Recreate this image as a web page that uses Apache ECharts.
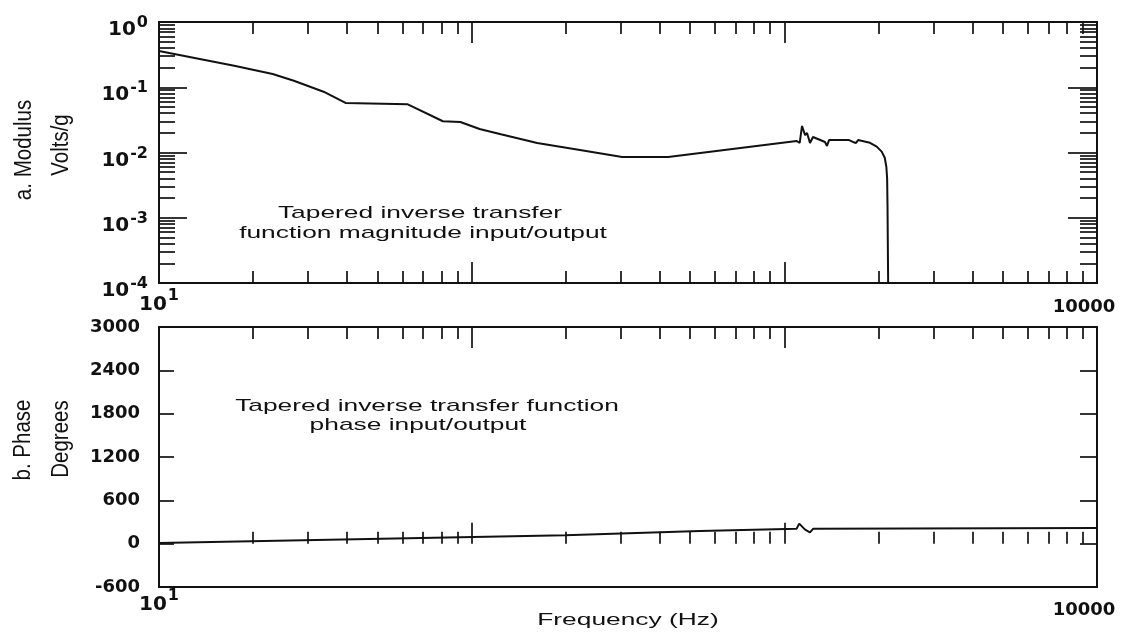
<!DOCTYPE html>
<html><head><meta charset="utf-8">
<script src="https://cdn.jsdelivr.net/npm/echarts@6/dist/echarts.min.js"></script>
<style>html,body{margin:0;padding:0;background:#fff}#c{width:1135px;height:632px}</style>
</head><body><div id="c"></div>
<script>
// ---- data ----
const freqTop = [10, 17.4, 23.1, 27.0, 33.6, 39.5, 62.5, 80.9, 92.0, 106, 124, 162, 222, 303, 425,
  1095, 1120, 1139, 1165, 1182, 1208, 1235, 1349, 1369, 1390, 1610, 1658, 1696, 1721,
  1879, 1975, 2048, 2095, 2120, 2132, 2138, 2142, 2148];
const modulus = [0.359, 0.214, 0.160, 0.126, 0.0855, 0.0574, 0.0548, 0.0301, 0.0293, 0.0229, 0.0190, 0.0140, 0.0109, 0.00853, 0.00853,
  0.0150, 0.0140, 0.0255, 0.0185, 0.0199, 0.0140, 0.0173, 0.0145, 0.0126, 0.0155, 0.0155, 0.0145, 0.0140, 0.0155,
  0.0141, 0.0123, 0.0103, 0.0083, 0.0060, 0.0040, 0.0015, 0.0005, 0.0001];
const freqBottom = [10, 199, 538, 1095, 1116, 1165, 1208, 1238, 10000];
const phase = [8, 115, 174, 208, 277, 194, 156, 208, 216];

const xMajorTicks = [100, 1000];
const xMinorTicks = [20, 30, 40, 50, 60, 70, 80, 90, 200, 300, 400, 500, 600, 700, 800, 900,
  2000, 3000, 4000, 5000, 6000, 7000, 8000, 9000];
const xLabelValues = [10, 10000];
const yTopMajorTicks = [0.001, 0.01, 0.1];
const yTopMinorTicks = [0.0002, 0.0003, 0.0004, 0.0005, 0.0006, 0.0007, 0.0008, 0.0009,
  0.002, 0.003, 0.004, 0.005, 0.006, 0.007, 0.008, 0.009,
  0.02, 0.03, 0.04, 0.05, 0.06, 0.07, 0.08, 0.09,
  0.2, 0.3, 0.4, 0.5, 0.6, 0.7, 0.8, 0.9];
const yBottomTicks = [0, 600, 1200, 1800, 2400];

// ---- chart ----
const INK = '#111';
const FONT = 'DejaVu Sans';
const tickStyle = { color: INK, width: 1.7 };
const tok = (size, pad) => ({ fontSize: size, fontWeight: 'bold', fontFamily: FONT, color: INK, verticalAlign: 'middle', padding: pad });
const richY = { b: tok(20, [16, 0, 0, 0]), e: tok(16, [2, 0, 0, 1]) };
const richX = [
  { b: tok(20, [0, 0, 0, 0]), e: tok(16, [0, 0, 18, 1]), r: tok(18, [10, 26, 0, 0]) },
  { b: tok(20, [0, 0, 0, 0]), e: tok(16, [0, 0, 18, 1]), r: tok(18, [13, 26, 0, 0]) }
];
const xLabelMargin = [5, 1];
function near(a, b) { return Math.abs(a - b) < 1e-6 * Math.abs(b); }
function xLabelFmt(v) {
  if (near(v, xLabelValues[0])) return '{b|10}{e|1}';
  if (near(v, xLabelValues[1])) return '{r|' + xLabelValues[1] + '}';
  return '';
}
function tickAxis(grid, pos, values, len, extra) {
  return Object.assign({
    gridIndex: grid, position: pos,
    axisLine: { show: false }, splitLine: { show: false },
    axisLabel: { show: false },
    axisTick: { show: true, inside: true, length: len, customValues: values, lineStyle: tickStyle }
  }, extra);
}
const xLog = { type: 'log', logBase: 10, min: 10, max: 10000 };
const xAxes = [];
[0, 1].forEach(g => {
  xAxes.push(tickAxis(g, 'bottom', xMinorTicks, 12, Object.assign({}, xLog, {
    axisLabel: { show: true, margin: xLabelMargin[g], formatter: xLabelFmt, rich: richX[g], fontFamily: FONT, color: INK }
  })));
  xAxes.push(tickAxis(g, 'bottom', xMajorTicks, 21, xLog));
  xAxes.push(tickAxis(g, 'top', xMinorTicks, 12, xLog));
  xAxes.push(tickAxis(g, 'top', xMajorTicks, 21, xLog));
});
const yLog = { type: 'log', logBase: 10, min: 0.0001, max: 1 };
const yLin = { type: 'value', min: -600, max: 3000, interval: 600 };
const yAxes = [
  tickAxis(0, 'left', yTopMinorTicks, 16, Object.assign({}, yLog, {
    axisLabel: { show: true, margin: 11, rich: richY,
      formatter: v => '{b|10}{e|' + Math.round(Math.log10(v)) + '}' }
  })),
  tickAxis(0, 'left', yTopMajorTicks, 28, yLog),
  tickAxis(0, 'right', yTopMinorTicks, 17, yLog),
  tickAxis(0, 'right', yTopMajorTicks, 29, yLog),
  tickAxis(1, 'left', yBottomTicks, 15, Object.assign({}, yLin, {
    axisLabel: { show: true, margin: 19, fontSize: 18, fontWeight: 'bold', fontFamily: FONT, color: INK,
      formatter: v => String(v) }
  })),
  tickAxis(1, 'right', yBottomTicks, 17, yLin)
];

const textStyle = (t, size) => ({ text: t, fontSize: size, fontFamily: 'Liberation Sans', fill: INK, align: 'center', verticalAlign: 'middle' });
function hText(t, x, y) { return { type: 'text', x: x, y: y, scaleX: 1.55, style: textStyle(t, 17) }; }
function vText(t, x, y) { return { type: 'text', x: x, y: y, rotation: Math.PI / 2, scaleY: 1.18, style: textStyle(t, 20.5) }; }

const chart = echarts.init(document.getElementById('c'));
chart.setOption({
  animation: false,
  backgroundColor: '#fff',
  grid: [
    { left: 159, top: 22, width: 938, height: 261, show: true, borderColor: INK, borderWidth: 2, backgroundColor: 'transparent' },
    { left: 159, top: 327, width: 938, height: 260, show: true, borderColor: INK, borderWidth: 2, backgroundColor: 'transparent' }
  ],
  xAxis: xAxes,
  yAxis: yAxes,
  series: [
    { type: 'line', xAxisIndex: 0, yAxisIndex: 0, showSymbol: false, clip: true,
      data: freqTop.map((f, i) => [f, modulus[i]]), lineStyle: { color: INK, width: 2 } },
    { type: 'line', xAxisIndex: 4, yAxisIndex: 4, showSymbol: false, clip: true,
      data: freqBottom.map((f, i) => [f, phase[i]]), lineStyle: { color: INK, width: 2 } }
  ],
  graphic: [
    hText('Tapered inverse transfer', 420, 213),
    hText('function magnitude input/output', 423, 233),
    hText('Tapered inverse transfer function', 427, 406),
    hText('phase input/output', 418, 425),
    hText('Frequency (Hz)', 628, 620),
    vText('a. Modulus', 24, 150),
    vText('Volts/g', 61, 145),
    vText('b. Phase', 23, 440),
    vText('Degrees', 61, 439)
  ]
});
</script></body></html>
